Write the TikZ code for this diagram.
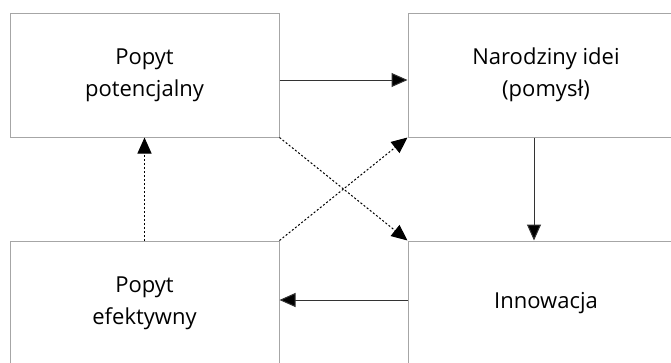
\documentclass[tikz,border=0pt]{standalone}
\usepackage{fontspec}
\setmainfont{Open Sans}
\usetikzlibrary{arrows.meta}
\begin{document}
\begin{tikzpicture}[x=1pt,y=-1pt,
  box/.style={draw=black!35,line width=1pt,rectangle,minimum height=124pt,
    align=center,inner sep=0pt,font=\fontsize{22}{32}\selectfont},
  narrow/.style={box,minimum width=269pt},
  wide/.style={box,minimum width=276pt},
  arr/.style={draw=black!80,line width=1pt,-{Triangle[length=16pt,width=14pt,fill=black]}},
  dotarr/.style={arr,draw=black,dash pattern=on 2pt off 2pt}]
\useasboundingbox (0,0) rectangle (671,362);
\clip (0,0) rectangle (671,362);
\node[narrow] (pot) at (144.5,75) {Popyt\\potencjalny};
\node[wide]   (idea) at (546,75) {Narodziny idei\\(pomysł)};
\node[narrow] (efe) at (144.5,303) {Popyt\\efektywny};
\node[wide]   (inn) at (546,303) {Innowacja};
% solid flow around the cycle
\draw[arr] ([yshift=-5pt]pot.east) -- ([yshift=-5pt]idea.west);
\draw[arr] ([xshift=-12pt]idea.south) -- ([xshift=-12pt]inn.north);
\draw[arr] ([yshift=3pt]inn.west) -- ([yshift=3pt]efe.east);
% dotted feedback links
\draw[dotarr] (efe.north) -- (pot.south);
\draw[dotarr] (pot.south east) -- (inn.north west);
\draw[dotarr] (efe.north east) -- (idea.south west);
\end{tikzpicture}
\end{document}
